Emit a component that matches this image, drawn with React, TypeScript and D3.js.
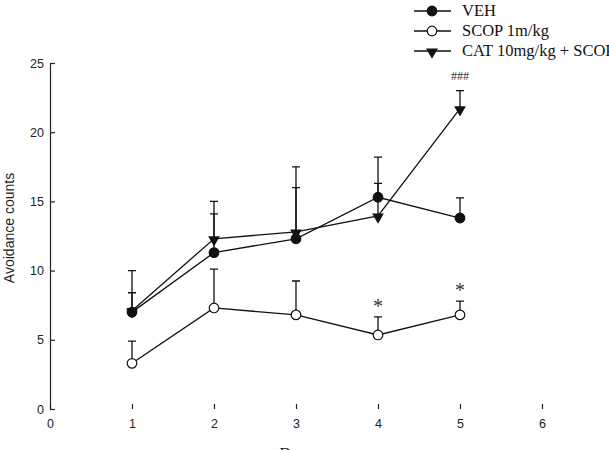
import * as d3 from "d3";
import { useEffect, useRef } from "react";

const days = [1, 2, 3, 4, 5];
const vehMean = [7.0, 11.3, 12.3, 15.3, 13.8];
const vehErr = [1.4, 2.8, 3.7, 1.0, 1.45];
const scopMean = [3.3, 7.3, 6.8, 5.35, 6.8];
const scopErr = [1.6, 2.8, 2.45, 1.3, 1.0];
const catMean = [7.1, 12.3, 12.8, 13.95, 21.7];
const catErr = [2.9, 2.7, 4.7, 4.25, 1.3];
const xTicks = [0, 1, 2, 3, 4, 5, 6];
const yTicks = [0, 5, 10, 15, 20, 25];

const series = [
  { name: "VEH", mean: vehMean, err: vehErr, marker: "dot" },
  { name: "SCOP 1m/kg", mean: scopMean, err: scopErr, marker: "open" },
  { name: "CAT 10mg/kg + SCOP", mean: catMean, err: catErr, marker: "tri" },
];

// significance marks: [day, series index, label]
const marks: [number, number, string][] = [
  [4, 1, "*"],
  [5, 1, "*"],
  [5, 2, "###"],
];

export default function App() {
  const ref = useRef<SVGSVGElement>(null);

  useEffect(() => {
    const svg = d3.select(ref.current);
    svg.selectAll("*").remove();

    const x = d3.scaleLinear().domain([0, 6]).range([50, 542]);
    const y = d3.scaleLinear().domain([0, 25]).range([409, 63]);
    const sans = "'Liberation Sans', Arial, sans-serif";
    const serif = "'Liberation Serif', 'Times New Roman', serif";

    // axes with inward ticks
    const gx = svg
      .append("g")
      .attr("transform", `translate(0,${y(0)})`)
      .call(
        d3.axisBottom(x).tickValues(xTicks).tickFormat(d3.format("d")).tickSize(-5).tickPadding(10).tickSizeOuter(-5)
      );
    const gy = svg
      .append("g")
      .attr("transform", `translate(${x(0)},0)`)
      .call(
        d3.axisLeft(y).tickValues(yTicks).tickFormat(d3.format("d")).tickSize(-5).tickPadding(6).tickSizeOuter(0)
      );
    [gx, gy].forEach((g) => {
      g.selectAll("path,line").attr("stroke", "#222").attr("stroke-width", 1.2);
      g.selectAll("text").attr("font-family", sans).attr("font-size", 12.5).attr("fill", "#222");
    });
    gx.select(".domain").attr("d", `M${x(0)},${y(0) - 5}V${y(0)}H${x(6)}V${y(0) - 5}`);

    svg
      .append("text")
      .attr("transform", `translate(14,228) rotate(-90)`)
      .attr("text-anchor", "middle")
      .attr("font-family", sans)
      .attr("font-size", 14)
      .attr("fill", "#222")
      .text("Avoidance counts");

    svg
      .append("text")
      .attr("x", x(3))
      .attr("y", 459)
      .attr("text-anchor", "middle")
      .attr("font-family", serif)
      .attr("font-size", 16)
      .attr("fill", "#222")
      .text("Days");

    const line = d3
      .line<number>()
      .x((_, i) => x(days[i]))
      .y((d) => y(d));

    const tri = d3.symbol().type(d3.symbolTriangle).size(60);

    const drawMarker = (g: any, kind: string, cx: number, cy: number) => {
      if (kind === "tri") {
        g.append("path")
          .attr("d", tri())
          .attr("transform", `translate(${cx},${cy + 1}) rotate(180)`)
          .attr("fill", "#111");
      } else {
        g.append("circle")
          .attr("cx", cx)
          .attr("cy", cy)
          .attr("r", 4.8)
          .attr("fill", kind === "open" ? "#fff" : "#111")
          .attr("stroke", "#111")
          .attr("stroke-width", 1.2);
      }
    };

    const plot = svg.append("g");
    series.forEach((s) => {
      plot
        .append("path")
        .attr("d", line(s.mean))
        .attr("fill", "none")
        .attr("stroke", "#111")
        .attr("stroke-width", 1.3);
      s.mean.forEach((m, i) => {
        const cx = x(days[i]);
        const top = y(m + s.err[i]);
        plot
          .append("path")
          .attr("d", `M${cx},${y(m)}V${top}M${cx - 4},${top}H${cx + 4}`)
          .attr("stroke", "#111")
          .attr("stroke-width", 1.3)
          .attr("fill", "none");
      });
    });
    series.forEach((s) => {
      s.mean.forEach((m, i) => drawMarker(plot, s.marker, x(days[i]), y(m)));
    });

    marks.forEach(([d, si, label]) => {
      const s = series[si];
      const i = days.indexOf(d);
      const top = y(s.mean[i] + s.err[i]);
      svg
        .append("text")
        .attr("x", x(d))
        .attr("y", label === "*" ? top - 4 : top - 11)
        .attr("text-anchor", "middle")
        .attr("font-family", serif)
        .attr("font-size", label === "*" ? 20 : 12)
        .attr("fill", "#333")
        .text(label);
    });

    // legend
    const lg = svg.append("g");
    series.forEach((s, i) => {
      const ly = 11 + i * 20;
      lg.append("line")
        .attr("x1", 414)
        .attr("x2", 451)
        .attr("y1", ly)
        .attr("y2", ly)
        .attr("stroke", "#111")
        .attr("stroke-width", 1.3);
      drawMarker(lg, s.marker, 432, ly);
      lg.append("text")
        .attr("x", 462)
        .attr("y", ly + 5)
        .attr("font-family", serif)
        .attr("font-size", 16.5)
        .attr("fill", "#111")
        .text(s.name);
    });
  }, []);

  return (
    <svg
      ref={ref}
      width={609}
      height={450}
      style={{ position: "absolute", left: 0, top: 0, background: "#fff" }}
    />
  );
}
